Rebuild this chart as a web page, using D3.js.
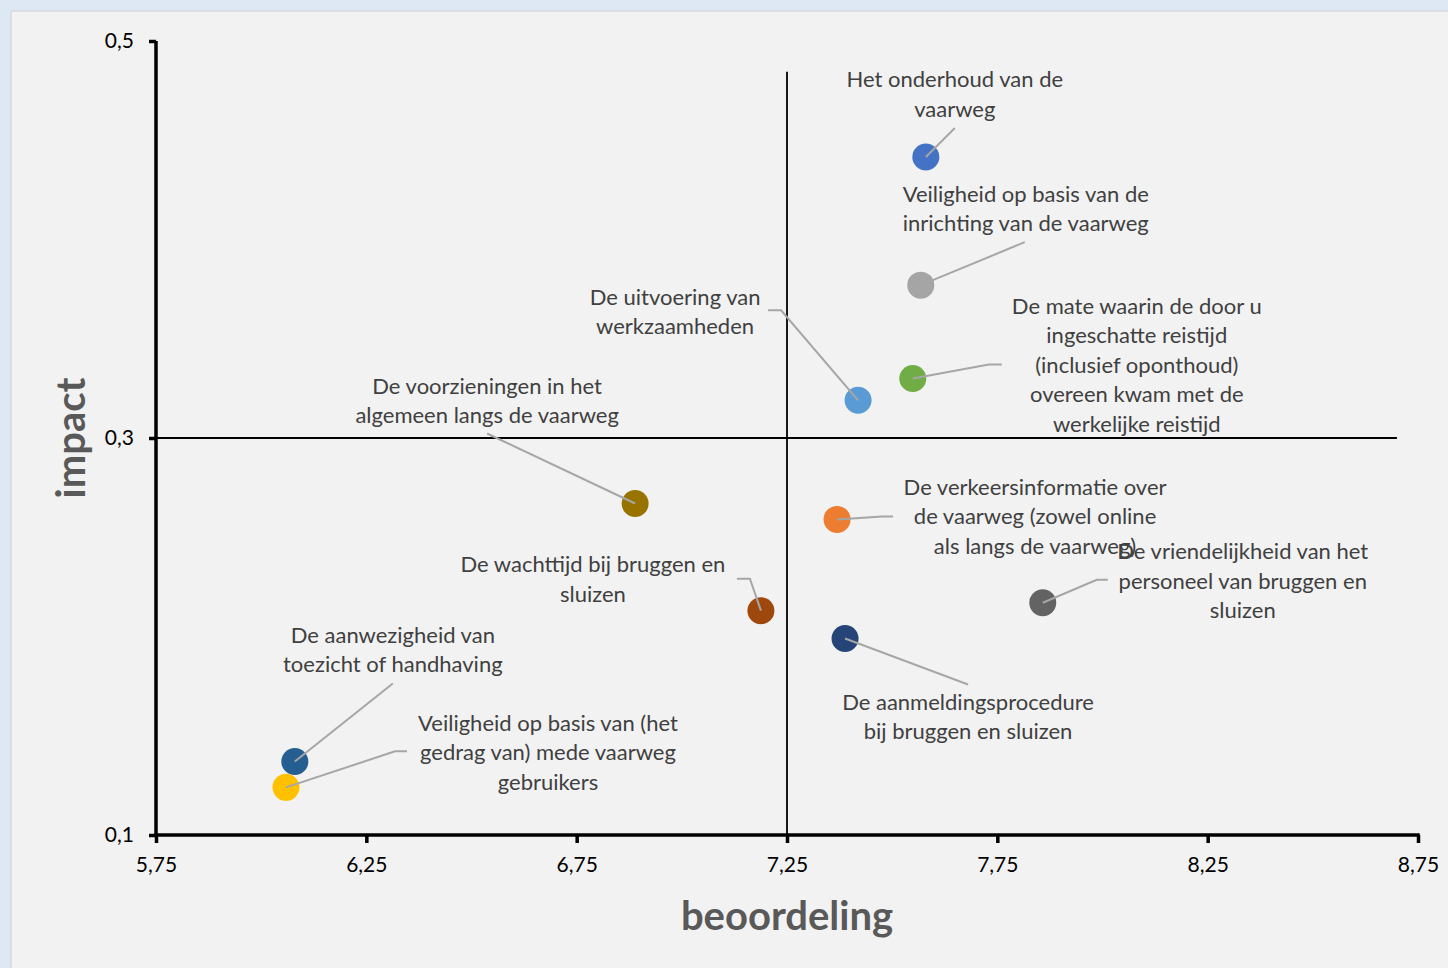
<!DOCTYPE html>
<html>
<head>
<meta charset="utf-8">
<script src="https://cdn.jsdelivr.net/npm/d3@7"></script>
<style>
  html, body { margin: 0; padding: 0; background: #dde8f4; }
  svg { display: block; }
</style>
</head>
<body>
<svg id="chart" width="1448" height="968"></svg>
<script>
// --- data ---
const names = [
  'Het onderhoud van de vaarweg',
  'Veiligheid op basis van de inrichting van de vaarweg',
  'De mate waarin de door u ingeschatte reistijd (inclusief oponthoud) overeen kwam met de werkelijke reistijd',
  'De uitvoering van werkzaamheden',
  'De voorzieningen in het algemeen langs de vaarweg',
  'De verkeersinformatie over de vaarweg (zowel online als langs de vaarweg)',
  'De vriendelijkheid van het personeel van bruggen en sluizen',
  'De wachttijd bij bruggen en sluizen',
  'De aanmeldingsprocedure bij bruggen en sluizen',
  'De aanwezigheid van toezicht of handhaving',
  'Veiligheid op basis van (het gedrag van) mede vaarweg gebruikers'
];
const beoordeling = [7.58, 7.568, 7.549, 7.419, 6.889, 7.369, 7.858, 7.188, 7.388, 6.080, 6.059];
const impact = [0.4416, 0.377, 0.330, 0.319, 0.267, 0.259, 0.217, 0.213, 0.199, 0.137, 0.124];
const labelLines = [
  ['Het onderhoud van de', 'vaarweg'],
  ['Veiligheid op basis van de', 'inrichting van de vaarweg'],
  ['De mate waarin de door u', 'ingeschatte reistijd', '(inclusief oponthoud)', 'overeen kwam met de', 'werkelijke reistijd'],
  ['De uitvoering van', 'werkzaamheden'],
  ['De voorzieningen in het', 'algemeen langs de vaarweg'],
  ['De verkeersinformatie over', 'de vaarweg (zowel online', 'als langs de vaarweg)'],
  ['De vriendelijkheid van het', 'personeel van bruggen en', 'sluizen'],
  ['De wachttijd bij bruggen en', 'sluizen'],
  ['De aanmeldingsprocedure', 'bij bruggen en sluizen'],
  ['De aanwezigheid van', 'toezicht of handhaving'],
  ['Veiligheid op basis van (het', 'gedrag van) mede vaarweg', 'gebruikers']
];
const xTicks = [5.75, 6.25, 6.75, 7.25, 7.75, 8.25, 8.75];
const yTicks = [0.1, 0.3, 0.5];
const crossX = 7.25, crossXTop = 0.4845;
const crossY = 0.3, crossYRight = 8.70;

// --- styling / layout ---
const colors = ['#4472c4', '#a5a5a5', '#70ad47', '#5b9bd5', '#997300', '#ed7d31',
                '#636363', '#9e480e', '#264478', '#255e91', '#ffc000'];
// label centre offset from point (px) and leader bend points (px offsets)
const labelPos = [
  { dx: 29, dy: -77, lead: [[29, -29]] },
  { dx: 105, dy: -91, lead: [[104, -43]] },
  { dx: 224, dy: -72, lead: [[89, -14], [76, -14]] },
  { dx: -183, dy: -103, lead: [[-90, -90], [-77, -90]] },
  { dx: -148, dy: -117, lead: [[-148, -70]] },
  { dx: 198, dy: -32, lead: [[56, -3], [45, -3]] },
  { dx: 200, dy: -51, lead: [[65, -23], [54, -23]] },
  { dx: -168, dy: -46, lead: [[-24, -32], [-11, -32]] },
  { dx: 123, dy: 64, lead: [[123, 46]] },
  { dx: 98, dy: -126, lead: [[98, -78]] },
  { dx: 262, dy: -64, lead: [[121, -36], [109, -36]] }
];

const font = 'Lato, "Open Sans", sans-serif';
const svg = d3.select('#chart');

svg.append('rect')
  .attr('x', 11).attr('y', 11)
  .attr('width', 1448).attr('height', 968)
  .attr('fill', '#f2f2f2')
  .attr('stroke', '#d6d9dd').attr('stroke-width', 1.5);

const x = d3.scaleLinear().domain([5.75, 8.75]).range([156, 1418]);
const y = d3.scaleLinear().domain([0.1, 0.5]).range([835, 41]);

const nl = d3.formatLocale({ decimal: ',', thousands: '.', grouping: [3], currency: ['€', ''] });

// crosshair lines
svg.append('line')
  .attr('x1', x(crossX)).attr('x2', x(crossX))
  .attr('y1', y(0.1)).attr('y2', y(crossXTop))
  .attr('stroke', '#000').attr('stroke-width', 1.8);
svg.append('line')
  .attr('x1', x(5.75)).attr('x2', x(crossYRight))
  .attr('y1', y(crossY)).attr('y2', y(crossY))
  .attr('stroke', '#000').attr('stroke-width', 1.8);

// axes
const xAxis = d3.axisBottom(x).tickValues(xTicks).tickFormat(nl.format('.2f')).tickSize(8).tickSizeOuter(0).tickPadding(14);
const yAxis = d3.axisLeft(y).tickValues(yTicks).tickFormat(nl.format('.1f')).tickSize(7).tickSizeOuter(0).tickPadding(15);

const gx = svg.append('g').attr('transform', 'translate(0,' + y(0.1) + ')').call(xAxis);
const gy = svg.append('g').attr('transform', 'translate(' + x(5.75) + ',0)').call(yAxis);

[gx, gy].forEach(g => {
  g.select('.domain').attr('stroke', '#000').attr('stroke-width', 3.5);
  g.selectAll('.tick line').attr('stroke', '#000').attr('stroke-width', 3.5);
  g.selectAll('.tick text').attr('fill', '#000').style('font-family', font).style('font-size', '21px');
});
gy.select('.domain').attr('d', 'M0,' + y(0.5) + 'V' + (y(0.1) + 1.75));
gx.select('.domain').attr('d', 'M' + (x(5.75) - 1.75) + ',0H' + (x(8.75) + 1.75));

// axis titles
svg.append('text')
  .attr('x', x(7.25)).attr('y', 930)
  .attr('text-anchor', 'middle')
  .attr('fill', '#595959')
  .style('font-family', font).style('font-weight', 'bold').style('font-size', '40px')
  .text('beoordeling');
svg.append('text')
  .attr('transform', 'translate(85,' + y(0.3) + ') rotate(-90)')
  .attr('text-anchor', 'middle')
  .attr('fill', '#595959')
  .style('font-family', font).style('font-weight', 'bold').style('font-size', '40px')
  .text('impact');

const pts = names.map((n, i) => ({
  name: n, px: x(beoordeling[i]), py: y(impact[i]),
  lines: labelLines[i], pos: labelPos[i], color: colors[i]
}));

// points
svg.append('g').selectAll('circle')
  .data(pts).enter().append('circle')
  .attr('cx', d => d.px).attr('cy', d => d.py)
  .attr('r', 13.5)
  .attr('fill', d => d.color);

// leader lines
const line = d3.line();
svg.append('g').selectAll('path')
  .data(pts).enter().append('path')
  .attr('d', d => line(d.pos.lead.map(p => [d.px + p[0], d.py + p[1]]).concat([[d.px, d.py]])))
  .attr('fill', 'none')
  .attr('stroke', '#a6a6a6').attr('stroke-width', 2);

// labels
const lbl = svg.append('g').selectAll('text')
  .data(pts).enter().append('text')
  .attr('text-anchor', 'middle')
  .attr('fill', '#404040')
  .style('font-family', font).style('font-size', '22px');
lbl.selectAll('tspan')
  .data(d => d.lines.map((t, k) => ({ t, k, d })))
  .enter().append('tspan')
  .attr('x', o => o.d.px + o.d.pos.dx)
  .attr('y', o => o.d.py + o.d.pos.dy + o.k * 29.4 + 7.5)
  .text(o => o.t);
</script>
</body>
</html>
